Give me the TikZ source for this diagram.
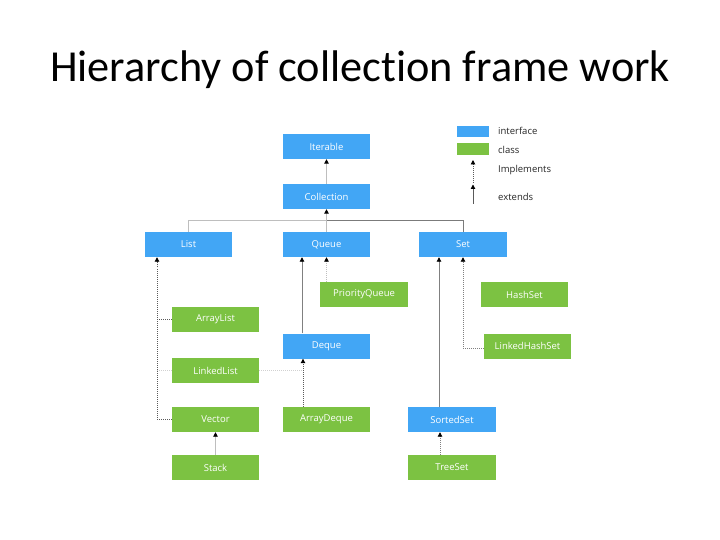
\documentclass[tikz,border=0pt]{standalone}
\usepackage{fontspec}
\setmainfont{Open Sans}
\newfontfamily\titlefont[Ligatures=NoCommon]{Carlito}
\usetikzlibrary{arrows.meta}
\definecolor{ifblue}{RGB}{66,166,245}
\definecolor{clgreen}{RGB}{124,194,66}
\definecolor{lgray}{RGB}{190,190,190}
\definecolor{dgray}{RGB}{90,90,90}
\tikzset{
  box/.style={minimum width=87pt,minimum height=25pt,inner sep=0pt,text=white,font=\fontsize{9.5}{11}\selectfont},
  iface/.style={box,fill=ifblue},
  cls/.style={box,fill=clgreen},
  tip/.style={-{Triangle[length=4.5pt,width=4.5pt,color=black]}},
  ext/.style={tip,draw=lgray,line width=0.9pt},
  extdark/.style={tip,draw=dgray,line width=0.9pt},
  impl/.style={tip,draw=dgray,line width=0.9pt,dash pattern=on 1pt off 1pt},
  impllight/.style={tip,draw=lgray,line width=0.9pt,dash pattern=on 1pt off 1pt},
  dotline/.style={draw=dgray,line width=0.9pt,dash pattern=on 1pt off 1pt},
  dotlight/.style={draw=lgray!70,line width=0.9pt,dash pattern=on 1pt off 1pt},
  legtext/.style={anchor=west,inner sep=0pt,text=black!85,font=\fontsize{9.5}{11}\selectfont}
}
\begin{document}
\begin{tikzpicture}[x=1pt,y=-1pt]
\useasboundingbox[fill=white] (0,0) rectangle (720,540);
% title
\node[anchor=base,inner sep=0pt,font=\titlefont\fontsize{44.3}{50}\selectfont] (title) at (360,82) {Hierarchy of collection frame work};
% interfaces
\node[iface] (Iterable) at (326.5,146.5) {Iterable};
\node[iface] (Collection) at (326.5,196.5) {Collection};
\node[iface] (List) at (188.5,244.5) {List};
\node[iface] (Queue) at (326.5,244.5) {Queue};
\node[iface,minimum width=88pt] (Set) at (463,244.5) {Set};
\node[iface] (Deque) at (326.5,346) {Deque};
\node[iface,minimum width=88pt] (SortedSet) at (452,419.5) {SortedSet};
% classes
\node[cls,minimum width=88pt] (PriorityQueue) at (364,294.5) {PriorityQueue};
\node[cls] (HashSet) at (524.5,294.5) {HashSet};
\node[cls] (ArrayList) at (215.5,319.5) {ArrayList};
\node[cls] (LinkedHashSet) at (527.5,346) {LinkedHashSet};
\node[cls] (LinkedList) at (215.5,370.5) {LinkedList};
\node[cls] (Vector) at (215.5,419.5) {Vector};
\node[cls] (ArrayDeque) at (326.5,419.5) {ArrayDeque};
\node[cls] (Stack) at (215.5,467.5) {Stack};
\node[cls,minimum width=88pt] (TreeSet) at (452,467.5) {TreeSet};
% legend
\node[fill=ifblue,minimum width=32pt,minimum height=11pt,inner sep=0pt] (legI) at (473,131.5) {};
\node[fill=clgreen,minimum width=32pt,minimum height=12pt,inner sep=0pt] (legC) at (473,149) {};
\node[legtext] (legIt) at (498,131) {interface};
\node[legtext] (legCt) at (498,149.5) {class};
\node[legtext] (legImt) at (498,170) {Implements};
\node[legtext] (legExt) at (498,197) {extends};
\coordinate (legA1) at (473,183);
\coordinate (legA2) at (473,160);
\coordinate (legB1) at (473,204);
\coordinate (legB2) at (473,184.5);
\draw[impl] (legA1) -- (legA2);
\draw[extdark] (legB1) -- (legB2);
% tree top
\draw[ext] (Collection.north) -- (Iterable.south);
\coordinate (bus) at (326.5,220);
\draw[draw=lgray,line width=0.9pt] (List.north) |- (bus);
\draw[draw=dgray!80,line width=0.9pt] (bus) -| (Set.north);
\draw[draw=lgray,line width=0.9pt] (Queue.north) -- (bus);
\draw[ext] (bus) -- (Collection.south);
% List implementations
\coordinate (lv) at (157,419.5);
\draw[impl] (lv) -- (lv |- List.south);
\draw[dotline] (ArrayList.west) -- (ArrayList.west -| lv);
\draw[dotlight] (LinkedList.west) -- (LinkedList.west -| lv);
\draw[dotline] (Vector.west) -- (lv);
\draw[ext] (Stack.north) -- (Vector.south);
% Queue side
\coordinate (qx) at (302,0);
\coordinate (dx) at (303,0);
\draw[draw=gray,tip,line width=0.9pt] (Deque.north -| qx) -- (Queue.south -| qx);
\draw[impllight] (PriorityQueue.north -| Queue.south) -- (Queue.south);
\draw[impl] (ArrayDeque.north -| dx) -- (Deque.south -| dx);
\draw[dotlight] (LinkedList.east) -- (LinkedList.east -| dx);
% Set side
\coordinate (sx) at (439,0);
\coordinate (tx) at (440,0);
\draw[extdark,draw=gray] (SortedSet.north -| sx) -- (Set.south -| sx);
\draw[impllight,draw=gray] ([yshift=-2pt]LinkedHashSet.west) -| (Set.south);
\draw[impl,draw=gray] (TreeSet.north -| tx) -- (SortedSet.south -| tx);
\end{tikzpicture}
\end{document}
